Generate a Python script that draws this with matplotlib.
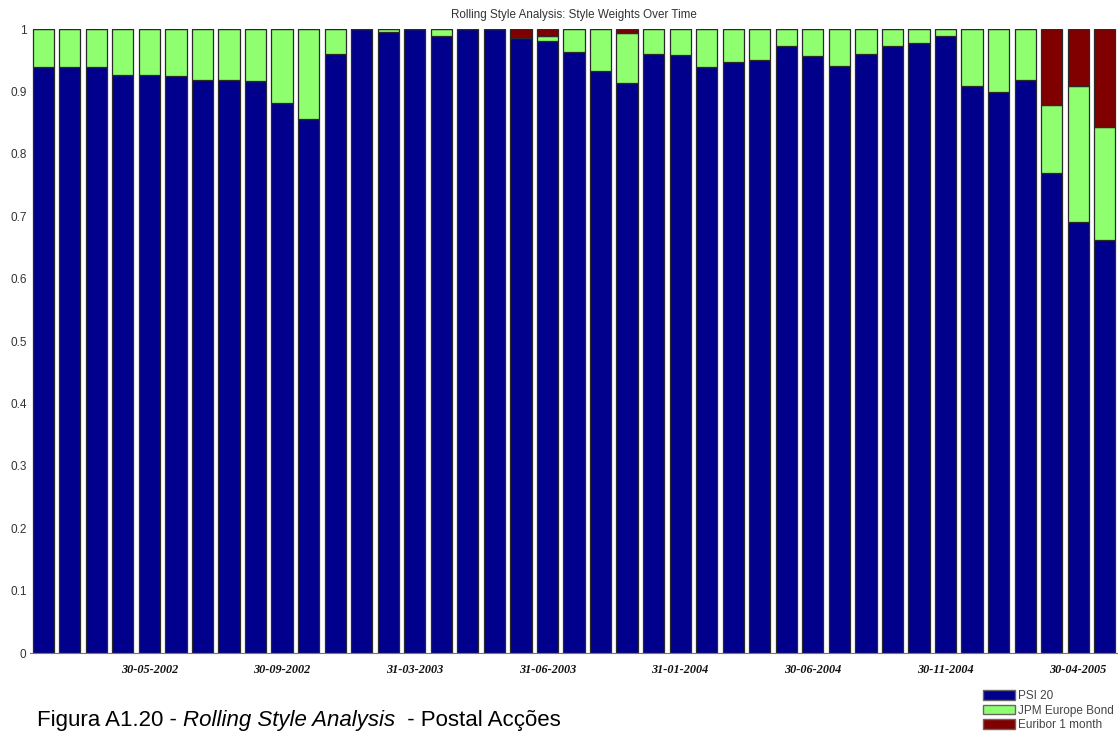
import numpy as np
import matplotlib
matplotlib.use("Agg")
import matplotlib.pyplot as plt
from matplotlib.patches import Patch

plt.rcParams["font.family"] = ["Liberation Sans", "DejaVu Sans"]

series_names = ["PSI 20", "JPM Europe Bond", "Euribor 1 month"]
psi20 = [0.939, 0.939, 0.939, 0.926, 0.926, 0.924, 0.918, 0.918, 0.916, 0.882,
         0.855, 0.960, 1.000, 0.995, 1.000, 0.989, 1.000, 1.000, 0.986, 0.980,
         0.963, 0.933, 0.913, 0.960, 0.958, 0.939, 0.947, 0.950, 0.973, 0.957,
         0.941, 0.960, 0.973, 0.978, 0.988, 0.908, 0.899, 0.918, 0.770, 0.691,
         0.662]
jpm_bond = [0.061, 0.061, 0.061, 0.074, 0.074, 0.076, 0.082, 0.082, 0.084, 0.118,
            0.145, 0.040, 0.000, 0.005, 0.000, 0.011, 0.000, 0.000, 0.000, 0.008,
            0.037, 0.067, 0.081, 0.040, 0.042, 0.061, 0.053, 0.050, 0.027, 0.043,
            0.059, 0.040, 0.027, 0.022, 0.012, 0.092, 0.101, 0.082, 0.108, 0.217,
            0.181]
euribor = [0, 0, 0, 0, 0, 0, 0, 0, 0, 0,
           0, 0, 0, 0, 0, 0, 0, 0, 0.014, 0.012,
           0, 0, 0.006, 0, 0, 0, 0, 0, 0, 0,
           0, 0, 0, 0, 0, 0, 0, 0, 0.122, 0.092,
           0.157]
tick_pos = [5, 10, 15, 20, 25, 30, 35, 40]
tick_labels = ["30-05-2002", "30-09-2002", "31-03-2003", "31-06-2003",
               "31-01-2004", "30-06-2004", "30-11-2004", "30-04-2005"]

colors = ["#00008c", "#8fff70", "#800000"]

fig = plt.figure(figsize=(11.18, 7.38), dpi=100)
ax = fig.add_axes([30/1118, 85/738, 1088/1118, 624/738])

x = np.arange(1, len(psi20) + 1)
bottom = np.zeros(len(x))
for vals, col in zip([psi20, jpm_bond, euribor], colors):
    ax.bar(x, vals, width=0.8, bottom=bottom, color=col,
           edgecolor="#2a2a2a", linewidth=0.9)
    bottom += np.array(vals)

ax.set_xlim(0.5, 41.5)
ax.set_ylim(0, 1)
ax.set_yticks(np.arange(0, 1.01, 0.1))
ax.set_yticklabels(["0", "0.1", "0.2", "0.3", "0.4", "0.5", "0.6", "0.7", "0.8", "0.9", "1"])
ax.set_xticks(tick_pos)
ax.set_xticklabels(tick_labels, family="Liberation Serif", weight="bold",
                   style="italic", fontsize=8.8)
ax.tick_params(axis="y", length=0, pad=2.5, labelsize=8.5, labelcolor="#333333")
ax.tick_params(axis="x", length=0, pad=8, labelcolor="#111111")
for s in ["top", "right", "left"]:
    ax.spines[s].set_visible(False)
ax.spines["bottom"].set_color("#777777")
ax.set_title("Rolling Style Analysis: Style Weights Over Time", fontsize=8.4,
             color="#333333", pad=8)

handles = [Patch(facecolor=c, edgecolor="#666666", linewidth=1) for c in colors]
fig.legend(handles, series_names, loc="upper left",
           bbox_to_anchor=(983/1118, 1 - 690/738), frameon=False,
           fontsize=8.5, handlelength=2.75, handleheight=0.9, labelspacing=0.22,
           handletextpad=0.2, borderpad=0, borderaxespad=0, labelcolor="#444444")

t1 = fig.text(37/1118, 12/738, "Figura A1.20 - ", fontsize=16, va="baseline")
t2 = ax.annotate("Rolling Style Analysis", xy=(1, 0), xycoords=t1,
                 fontsize=16, style="italic", va="bottom", annotation_clip=False)
t3 = ax.annotate("  - Postal Acções", xy=(1, 0), xycoords=t2,
                 fontsize=16, va="bottom", annotation_clip=False)

fig.savefig("out.png", dpi=100)
